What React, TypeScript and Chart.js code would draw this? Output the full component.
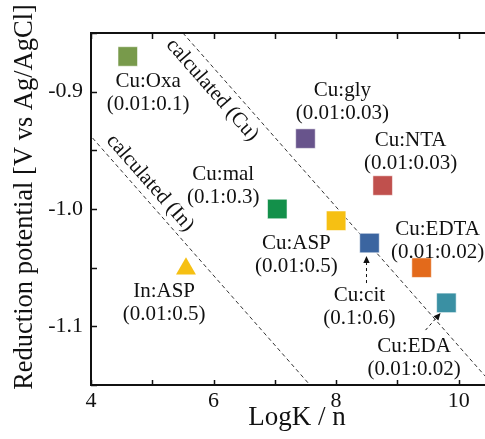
import React, { useEffect, useRef } from 'react';
import { Chart, registerables } from 'chart.js';

Chart.register(...registerables);

// ---- data ----
const cuNames = ['Cu:Oxa', 'Cu:gly', 'Cu:NTA', 'Cu:mal', 'Cu:ASP', 'Cu:cit', 'Cu:EDTA', 'Cu:EDA'];
const cuRatios = ['(0.01:0.1)', '(0.01:0.03)', '(0.01:0.03)', '(0.1:0.3)', '(0.01:0.5)', '(0.1:0.6)', '(0.01:0.02)', '(0.01:0.02)'];
const cuLogKn = [4.6, 7.5, 8.76, 7.04, 8.0, 8.545, 9.395, 9.8];
const cuPotential = [-0.87, -0.94, -0.98, -1.0, -1.01, -1.029, -1.05, -1.08];
const cuColors = ['#789a4b', '#68548c', '#c0504d', '#13904a', '#f6c013', '#3b65a0', '#e36a1b', '#3a90a3'];

const inNames = ['In:ASP'];
const inRatios = ['(0.01:0.5)'];
const inLogKn = [5.55];
const inPotential = [-1.051];
const inColors = ['#f6c013'];

// calculated lines
const calcCuX = [5.5, 10.56];
const calcCuY = [-0.85, -1.15];
const calcInX = [3.95, 7.573];
const calcInY = [-0.935, -1.15];

// tick values
const xTickValues = [4, 5, 6, 7, 8, 9, 10];
const yTickValues = [-0.85, -0.9, -0.95, -1.0, -1.05, -1.1, -1.15];

// annotation anchors (data units)
const cuLabelX = [4.932, 8.103, 9.215, 6.158, 7.351, 8.381, 9.656, 9.272];
const cuLabelY = [-0.9007, -0.9092, -0.9514, -0.9804, -1.0393, -1.0836, -1.0269, -1.1271];
const inLabelX = [5.193];
const inLabelY = [-1.0798];
const calcLabelText = ['calculated (Cu)', 'calculated (In)'];
const calcLabelX = [5.978, 4.965];
const calcLabelY = [-0.8986, -0.9779];
// arrows: [fromX, fromY, toX, toY]
const arrows = [
  [8.496, -1.0631, 8.496, -1.0401],
  [9.46, -1.1032, 9.705, -1.0887],
];

const SERIF = '"Liberation Serif", "Times New Roman", Times, serif';
const INK = '#111';

const overlay = {
  id: 'overlay',
  afterDatasetsDraw(chart: any) {
    const { ctx, chartArea: a, scales } = chart;
    const x = scales.x;
    const y = scales.y;
    ctx.save();

    // frame
    ctx.strokeStyle = INK;
    ctx.lineWidth = 2;
    ctx.beginPath();
    ctx.moveTo(a.right + 2, a.top);
    ctx.lineTo(a.left, a.top);
    ctx.lineTo(a.left, a.bottom);
    ctx.lineTo(a.right + 2, a.bottom);
    ctx.stroke();

    // inward ticks
    ctx.lineWidth = 1.5;
    ctx.beginPath();
    for (const v of xTickValues) {
      const px = Math.round(x.getPixelForValue(v)) + 0.5;
      ctx.moveTo(px, a.top);
      ctx.lineTo(px, a.top + 6);
      ctx.moveTo(px, a.bottom);
      ctx.lineTo(px, a.bottom - 5);
    }
    for (const v of yTickValues) {
      const py = Math.round(y.getPixelForValue(v)) + 0.5;
      ctx.moveTo(a.left, py);
      ctx.lineTo(a.left + 6, py);
    }
    ctx.stroke();

    // point labels
    ctx.fillStyle = INK;
    ctx.font = `21px ${SERIF}`;
    ctx.textAlign = 'center';
    ctx.textBaseline = 'middle';
    const drawLabel = (name: string, ratio: string, lx: number, ly: number) => {
      const px = x.getPixelForValue(lx);
      const py = y.getPixelForValue(ly);
      ctx.fillText(name, px, py - 11.5);
      ctx.fillText(ratio, px, py + 11.5);
    };
    cuNames.forEach((n, i) => drawLabel(n, cuRatios[i], cuLabelX[i], cuLabelY[i]));
    inNames.forEach((n, i) => drawLabel(n, inRatios[i], inLabelX[i], inLabelY[i]));

    // rotated labels along calculated lines
    const lines = [
      [calcCuX, calcCuY],
      [calcInX, calcInY],
    ];
    lines.forEach(([lx, ly], i) => {
      const x0 = x.getPixelForValue(lx[0]);
      const y0 = y.getPixelForValue(ly[0]);
      const x1 = x.getPixelForValue(lx[1]);
      const y1 = y.getPixelForValue(ly[1]);
      const ang = Math.atan2(y1 - y0, x1 - x0);
      ctx.save();
      ctx.translate(x.getPixelForValue(calcLabelX[i]), y.getPixelForValue(calcLabelY[i]));
      ctx.rotate(ang);
      ctx.fillText(calcLabelText[i], 0, 0);
      ctx.restore();
    });

    // arrows
    ctx.strokeStyle = INK;
    ctx.lineWidth = 1;
    arrows.forEach(([fx, fy, tx, ty]) => {
      const x0 = x.getPixelForValue(fx);
      const y0 = y.getPixelForValue(fy);
      const x1 = x.getPixelForValue(tx);
      const y1 = y.getPixelForValue(ty);
      const ang = Math.atan2(y1 - y0, x1 - x0);
      const hl = 7;
      const hw = 3.2;
      const bx = x1 - Math.cos(ang) * hl;
      const by = y1 - Math.sin(ang) * hl;
      ctx.setLineDash([3, 3]);
      ctx.beginPath();
      ctx.moveTo(x0, y0);
      ctx.lineTo(bx, by);
      ctx.stroke();
      ctx.setLineDash([]);
      ctx.beginPath();
      ctx.moveTo(x1, y1);
      ctx.lineTo(bx - Math.sin(ang) * hw, by + Math.cos(ang) * hw);
      ctx.lineTo(bx + Math.sin(ang) * hw, by - Math.cos(ang) * hw);
      ctx.closePath();
      ctx.fill();
    });

    // axis titles
    ctx.font = `27px ${SERIF}`;
    ctx.fillText('LogK / n', (a.left + a.right) / 2 + 9, a.bottom + 33);
    ctx.save();
    ctx.translate(25, (a.top + a.bottom) / 2 - 12);
    ctx.rotate(-Math.PI / 2);
    ctx.font = `26.5px ${SERIF}`;
    ctx.fillText('Reduction potential [V vs Ag/AgCl]', 0, 0);
    ctx.restore();

    ctx.restore();
  },
};

export default function App() {
  const canvasRef = useRef<HTMLCanvasElement | null>(null);

  useEffect(() => {
    const canvas = canvasRef.current;
    if (!canvas) return;
    const chart = new Chart(canvas, {
      type: 'scatter',
      data: {
        datasets: [
          {
            label: 'Cu',
            data: cuLogKn.map((v, i) => ({ x: v, y: cuPotential[i] })),
            pointStyle: 'rect',
            pointRadius: 13.8,
            pointHoverRadius: 13.8,
            pointBackgroundColor: cuColors,
            pointBorderColor: 'rgba(255,255,255,0.55)',
            pointBorderWidth: 1,
          },
          {
            label: 'In',
            data: inLogKn.map((v, i) => ({ x: v, y: inPotential[i] })),
            pointStyle: 'triangle',
            pointRadius: 11.5,
            pointHoverRadius: 11.5,
            pointBackgroundColor: inColors,
            pointBorderColor: inColors,
            pointBorderWidth: 0,
          },
          {
            type: 'line',
            label: 'calculated (Cu)',
            data: calcCuX.map((v, i) => ({ x: v, y: calcCuY[i] })),
            showLine: true,
            borderColor: '#333',
            borderWidth: 1,
            borderDash: [4, 3],
            pointRadius: 0,
            fill: false,
          },
          {
            type: 'line',
            label: 'calculated (In)',
            data: calcInX.map((v, i) => ({ x: v, y: calcInY[i] })),
            showLine: true,
            borderColor: '#333',
            borderWidth: 1,
            borderDash: [4, 3],
            pointRadius: 0,
            fill: false,
          },
        ],
      } as any,
      options: {
        responsive: false,
        animation: false,
        devicePixelRatio: 1,
        layout: { autoPadding: false, padding: { top: 33, right: 0, bottom: 0, left: 0 } },
        plugins: {
          legend: { display: false },
          tooltip: { enabled: false },
        },
        scales: {
          x: {
            type: 'linear',
            min: 4,
            max: 10.43,
            grid: { display: false, drawTicks: false },
            border: { display: false },
            ticks: {
              padding: 3,
              color: INK,
              font: { family: SERIF, size: 22 },
              maxRotation: 0,
              autoSkip: false,
              callback: (v: any) => (Math.abs(v % 2) < 1e-9 ? String(v) : ''),
            },
            afterBuildTicks: (s: any) => {
              s.ticks = xTickValues.map((v) => ({ value: v }));
            },
            afterFit: (s: any) => {
              s.height = 54;
              s.paddingLeft = 0;
              s.paddingRight = 0;
            },
          },
          y: {
            type: 'linear',
            min: -1.15,
            max: -0.85,
            grid: { display: false, drawTicks: false },
            border: { display: false },
            ticks: {
              padding: 8,
              color: INK,
              font: { family: SERIF, size: 22 },
              autoSkip: false,
              callback: (v: any) => {
                const t = v * 10;
                return Math.abs(t - Math.round(t)) < 1e-6 ? v.toFixed(1) : '';
              },
            },
            afterBuildTicks: (s: any) => {
              s.ticks = yTickValues.map((v) => ({ value: v }));
            },
            afterFit: (s: any) => {
              s.width = 91;
              s.paddingTop = 0;
              s.paddingBottom = 0;
            },
          },
        },
      } as any,
      plugins: [overlay],
    });
    return () => chart.destroy();
  }, []);

  return (
    <div style={{ position: 'absolute', left: 0, top: 0, width: 485, height: 439, background: '#fff' }}>
      <canvas ref={canvasRef} width={485} height={439} style={{ display: 'block' }} />
    </div>
  );
}
